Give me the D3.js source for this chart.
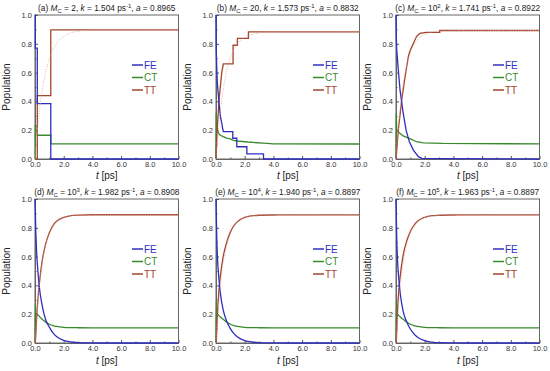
<!DOCTYPE html>
<html>
<head>
<meta charset="utf-8">
<script src="https://cdn.jsdelivr.net/npm/d3@7"></script>
<style>
  body { margin: 0; background: #fff; }
  svg { font-family: "Liberation Sans", Arial, sans-serif; }
</style>
</head>
<body>
<div id="chart"></div>
<script>
// panel titles
const letters = ["a", "b", "c", "d", "e", "f"];
const mcBase = ["2", "20", "10", "10", "10", "10"];
const mcExp = ["", "", "2", "3", "4", "5"];
const kVals = ["1.504", "1.573", "1.741", "1.982", "1.940", "1.963"];
const aVals = ["0.8965", "0.8832", "0.8922", "0.8908", "0.8897", "0.8897"];

const xTicks = [0, 2, 4, 6, 8, 10];
const yTicks = [0, 0.2, 0.4, 0.6, 0.8, 1.0];
const series = ["FE", "CT", "TT"];
const colors = {FE: "#2f2fbf", CT: "#3a8a2e", TT: "#a2452c"};

// (a) Mc = 2, step trajectories
const feA_t = [0, 0.02, 0.02, 0.16, 0.16, 1.1, 1.1, 10];
const feA = [1, 1, 0.77, 0.77, 0.385, 0.385, 0, 0];
const ctA_t = [0, 0.02, 0.02, 0.16, 0.16, 1.1, 1.1, 10];
const ctA = [0, 0, 0.23, 0.23, 0.165, 0.165, 0.105, 0.105];
const ttA_t = [0, 0.16, 0.16, 1.1, 1.1, 10];
const ttA = [0, 0, 0.44, 0.44, 0.8965, 0.8965];

// (b) Mc = 20
const feB_t = [0, 0.02, 0.05, 0.1, 0.2, 0.3, 0.4, 0.45, 0.51, 1.17, 1.17, 1.45, 1.45, 2.15, 2.15, 3.31, 3.31, 10];
const feB = [1, 0.75, 0.64, 0.52, 0.4, 0.3, 0.25, 0.22, 0.19, 0.19, 0.144, 0.144, 0.085, 0.085, 0.035, 0.035, 0, 0];
const ctB_t = [0, 0.02, 0.05, 0.1, 0.2, 0.3, 0.5, 0.75, 1, 1.2, 1.5, 2.2, 3.3, 4, 10];
const ctB = [0, 0.32, 0.25, 0.2, 0.175, 0.165, 0.155, 0.145, 0.14, 0.13, 0.125, 0.118, 0.11, 0.105, 0.104];
const ttB_t = [0, 0.09, 0.23, 0.4, 0.51, 1.19, 1.19, 1.49, 1.49, 2.26, 2.26, 10];
const ttB = [0, 0.22, 0.43, 0.6, 0.66, 0.66, 0.79, 0.79, 0.838, 0.838, 0.8832, 0.8832];

// (c) Mc = 10^2
const feC_t = [0, 0.02, 0.05, 0.16, 0.28, 0.47, 0.7, 0.93, 1.21, 1.56, 1.8, 3.05, 10];
const feC = [1, 0.85, 0.76, 0.62, 0.48, 0.34, 0.2, 0.12, 0.062, 0.016, 0.004, 0.002, 0];
const ctC_t = [0, 0.02, 0.05, 0.25, 0.5, 1, 1.43, 1.9, 3.3, 10];
const ctC = [0, 0.32, 0.2, 0.18, 0.16, 0.14, 0.12, 0.112, 0.108, 0.105];
const ttC_t = [0, 0.02, 0.16, 0.4, 0.63, 0.86, 0.97, 1.2, 1.43, 1.66, 2.1, 3.05, 3.05, 10];
const ttC = [0, 0.02, 0.2, 0.41, 0.57, 0.71, 0.75, 0.8, 0.85, 0.873, 0.88, 0.88, 0.8922, 0.8922];

// (d)-(f) smooth trajectories, common time grid
const tSmooth = [0, 0.02, 0.05, 0.1, 0.2, 0.3, 0.5, 0.75, 1, 1.25, 1.5, 2, 2.5, 3, 4, 5, 10];
const feD = [1, 0.93, 0.8, 0.66, 0.5, 0.39, 0.26, 0.16, 0.11, 0.07, 0.045, 0.018, 0.007, 0.003, 0.001, 0, 0];
const ctD = [0, 0.27, 0.21, 0.205, 0.195, 0.185, 0.165, 0.145, 0.13, 0.12, 0.115, 0.109, 0.107, 0.106, 0.105, 0.105, 0.105];
const ttD = [0, 0.01, 0.05, 0.15, 0.3, 0.41, 0.57, 0.69, 0.765, 0.815, 0.845, 0.873, 0.884, 0.888, 0.8905, 0.8908, 0.8908];
const feE = [1, 0.9, 0.75, 0.6, 0.45, 0.35, 0.23, 0.15, 0.1, 0.065, 0.042, 0.017, 0.007, 0.003, 0.001, 0, 0];
const ctE = [0, 0.29, 0.22, 0.2, 0.19, 0.18, 0.165, 0.145, 0.13, 0.12, 0.115, 0.109, 0.107, 0.106, 0.105, 0.105, 0.105];
const ttE = [0, 0.01, 0.08, 0.2, 0.36, 0.46, 0.6, 0.7, 0.77, 0.815, 0.843, 0.872, 0.883, 0.887, 0.889, 0.8897, 0.8897];
const feF = [1, 0.89, 0.74, 0.59, 0.44, 0.34, 0.22, 0.145, 0.097, 0.063, 0.04, 0.016, 0.006, 0.002, 0.001, 0, 0];
const ctF = [0, 0.29, 0.22, 0.2, 0.19, 0.18, 0.165, 0.145, 0.13, 0.12, 0.115, 0.109, 0.107, 0.106, 0.105, 0.105, 0.105];
const ttF = [0, 0.01, 0.08, 0.21, 0.37, 0.47, 0.61, 0.71, 0.775, 0.817, 0.845, 0.873, 0.884, 0.887, 0.889, 0.8897, 0.8897];

// fitted curves (dotted)
const fitT = [0, 0.25, 0.5, 0.75, 1, 1.5, 2, 2.5, 3, 4, 5, 10];
const fitA = [0, 0.281, 0.474, 0.606, 0.697, 0.803, 0.852, 0.876, 0.887, 0.894, 0.896, 0.8965];
const fitB = [0, 0.287, 0.481, 0.612, 0.700, 0.800, 0.845, 0.866, 0.875, 0.8815, 0.883, 0.8832];
const fitC = [0, 0.315, 0.518, 0.650, 0.736, 0.827, 0.865, 0.881, 0.887, 0.891, 0.892, 0.8922];
const fitD = [0, 0.348, 0.560, 0.689, 0.768, 0.845, 0.874, 0.885, 0.8885, 0.8905, 0.8908, 0.8908];
const fitE = [0, 0.342, 0.552, 0.682, 0.762, 0.841, 0.871, 0.883, 0.887, 0.889, 0.8896, 0.8897];
const fitF = [0, 0.345, 0.556, 0.686, 0.765, 0.843, 0.872, 0.883, 0.887, 0.889, 0.8896, 0.8897];

const zip = (t, v) => t.map((d, i) => [d, v[i]]);

const panels = [
  {FE: zip(feA_t, feA), CT: zip(ctA_t, ctA), TT: zip(ttA_t, ttA), fit: zip(fitT, fitA), smooth: false},
  {FE: zip(feB_t, feB), CT: zip(ctB_t, ctB), TT: zip(ttB_t, ttB), fit: zip(fitT, fitB), smooth: false},
  {FE: zip(feC_t, feC), CT: zip(ctC_t, ctC), TT: zip(ttC_t, ttC), fit: zip(fitT, fitC), smooth: false},
  {FE: zip(tSmooth, feD), CT: zip(tSmooth, ctD), TT: zip(tSmooth, ttD), fit: zip(fitT, fitD), smooth: true},
  {FE: zip(tSmooth, feE), CT: zip(tSmooth, ctE), TT: zip(tSmooth, ttE), fit: zip(fitT, fitE), smooth: true},
  {FE: zip(tSmooth, feF), CT: zip(tSmooth, ctF), TT: zip(tSmooth, ttF), fit: zip(fitT, fitF), smooth: true}
];

const width = 550, height = 371;
const cols = [35, 216, 396], rows = [15, 199];
const labelGap = [19.5, 21];
const pw = 143.5, ph = 144;

const svg = d3.select("#chart").append("svg")
  .attr("width", width)
  .attr("height", height);

panels.forEach((p, i) => {
  const r = Math.floor(i / 3);
  const left = cols[i % 3], top = rows[r];
  const g = svg.append("g").attr("transform", `translate(${left},${top})`);

  const x = d3.scaleLinear().domain([0, 10]).range([0, pw]);
  const y = d3.scaleLinear().domain([0, 1]).range([ph, 0]);

  // axes
  const xAxis = d3.axisBottom(x).tickValues(xTicks).tickFormat(d3.format(".1f")).tickSizeInner(-3).tickSizeOuter(0).tickPadding(2.5);
  const yAxis = d3.axisLeft(y).tickValues(yTicks).tickFormat(d3.format(".1f")).tickSizeInner(-3).tickSizeOuter(0).tickPadding(3);
  const gx = g.append("g").attr("transform", `translate(0,${ph})`).call(xAxis);
  const gy = g.append("g").call(yAxis);
  // minor ticks
  g.append("g").attr("transform", `translate(0,${ph})`)
    .call(d3.axisBottom(x).tickValues(d3.range(1, 10, 2)).tickSize(-1.5).tickFormat(""))
    .call(a => a.select(".domain").remove());
  g.append("g")
    .call(d3.axisLeft(y).tickValues(d3.range(0.1, 1, 0.2)).tickSize(-1.5).tickFormat(""))
    .call(a => a.select(".domain").remove());
  [gx, gy].forEach(a => {
    a.selectAll("text").attr("fill", "#333").style("font-size", "7.5px");
    a.select(".domain").attr("stroke", "#666");
  });
  g.selectAll(".tick line").attr("stroke", "#555");

  // frame
  g.append("rect").attr("width", pw).attr("height", ph)
    .attr("fill", "none").attr("stroke", "#666").attr("stroke-width", 1);

  const line = d3.line().x(d => x(d[0])).y(d => y(d[1]))
    .curve(p.smooth ? d3.curveMonotoneX : d3.curveLinear);

  ["CT", "TT", "FE"].forEach(s => {
    g.append("path").datum(p[s])
      .attr("fill", "none")
      .attr("stroke", colors[s])
      .attr("stroke-width", 1.3)
      .attr("d", line);
  });

  g.append("path").datum(p.fit)
    .attr("fill", "none")
    .attr("stroke", "#e49a9a")
    .attr("stroke-width", 0.8)
    .attr("stroke-dasharray", "1,1.5")
    .attr("d", d3.line().x(d => x(d[0])).y(d => y(d[1])).curve(d3.curveMonotoneX));

  // legend
  series.forEach((s, j) => {
    const ly = 50 + j * 12.5;
    g.append("line").attr("x1", 97).attr("x2", 108).attr("y1", ly).attr("y2", ly)
      .attr("stroke", colors[s]).attr("stroke-width", 1.5);
    g.append("text").attr("x", 109).attr("y", ly).attr("dy", "0.35em")
      .attr("fill", colors[s]).style("font-size", "10px").text(s);
  });

  // title
  const title = g.append("text").attr("x", pw / 2).attr("y", -4)
    .attr("text-anchor", "middle").attr("fill", "#222").style("font-size", "8.3px");
  title.append("tspan").text(`(${letters[i]}) `);
  title.append("tspan").style("font-style", "italic").text("M");
  title.append("tspan").attr("dy", 2).style("font-size", "6px").text("C");
  title.append("tspan").attr("dy", -2).text(` = ${mcBase[i]}`);
  if (mcExp[i]) {
    title.append("tspan").attr("dy", -3).style("font-size", "6px").text(mcExp[i]);
    title.append("tspan").attr("dy", 3).text(", ");
  } else {
    title.append("tspan").text(", ");
  }
  title.append("tspan").style("font-style", "italic").text("k");
  title.append("tspan").text(` = ${kVals[i]} ps`);
  title.append("tspan").attr("dy", -3).style("font-size", "6px").text("-1");
  title.append("tspan").attr("dy", 3).text(i < 2 ? ",  " : ", ");
  title.append("tspan").style("font-style", "italic").text("a");
  title.append("tspan").text(` = ${aVals[i]}`);

  // axis labels
  const xl = g.append("text").attr("x", pw / 2).attr("y", ph + labelGap[r])
    .attr("text-anchor", "middle").attr("fill", "#222").style("font-size", "10px");
  xl.append("tspan").style("font-style", "italic").text("t");
  xl.append("tspan").text(" [ps]");

  g.append("text")
    .attr("transform", `translate(${-25},${ph / 2}) rotate(-90)`)
    .attr("text-anchor", "middle").attr("fill", "#222").style("font-size", "10px")
    .text("Population");
});
</script>
</body>
</html>
